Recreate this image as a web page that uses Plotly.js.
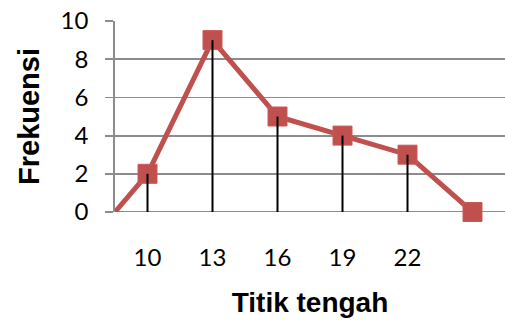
<!DOCTYPE html>
<html>
<head>
<meta charset="utf-8">
<script src="https://cdn.plot.ly/plotly-3.0.1.min.js"></script>
<style>html,body{margin:0;padding:0;background:#fff;}#chart{width:505px;height:324px;}</style>
</head>
<body>
<div id="chart"></div>
<script>
// Data
const midpoints = [8.5, 10, 13, 16, 19, 22, 25];
const frequencies = [0, 2, 9, 5, 4, 3, 0];
const tickValues = [10, 13, 16, 19, 22];
const tickLabels = ['10', '13', '16', '19', '22'];
const showMarker = [false, true, true, true, true, true, true];
const hasDropLine = [false, true, true, true, true, true, false];

const red = '#C0504D';

const dropX = [], dropY = [];
midpoints.forEach((x, i) => {
  if (hasDropLine[i]) { dropX.push(x, x, null); dropY.push(0, frequencies[i], null); }
});

const traces = [
  {
    x: midpoints, y: frequencies, type: 'scatter', mode: 'lines+markers',
    line: {color: red, width: 5},
    marker: {symbol: 'square', color: red, opacity: 1, size: showMarker.map(s => s ? 19 : 0),
             line: {color: '#C85A57', width: 1}},
    opacity: 1,
    cliponaxis: false, hoverinfo: 'skip'
  },
  {
    x: dropX, y: dropY, type: 'scatter', mode: 'lines',
    line: {color: '#000000', width: 2}, hoverinfo: 'skip'
  }
];

const layout = {
  width: 505, height: 324,
  margin: {l: 115, r: 0, t: 21, b: 112},
  paper_bgcolor: '#ffffff', plot_bgcolor: '#ffffff',
  showlegend: false,
  font: {family: 'Lato, "Open Sans", sans-serif', color: '#000000'},
  xaxis: {
    range: [8.5, 26.5], fixedrange: true,
    tickmode: 'array', tickvals: tickValues, ticktext: tickLabels,
    showgrid: false, zeroline: false,
    showline: false, ticks: '',
    tickfont: {size: 24, family: 'Lato, sans-serif', color: '#000'},
    ticklabelstandoff: 29,
    title: {text: 'Titik tengah', standoff: 22,
            font: {size: 28, family: '"Liberation Sans", Arial, sans-serif', weight: 'bold', color: '#000'}}
  },
  yaxis: {
    range: [0, 10], fixedrange: true,
    tickvals: [0, 2, 4, 6, 8, 10],
    showgrid: true, gridcolor: '#8C8C8C', gridwidth: 1.8,
    zeroline: false,
    showline: true, linecolor: '#8C8C8C', linewidth: 1.8,
    ticks: 'outside', ticklen: 8, tickcolor: '#8C8C8C', tickwidth: 1.8,
    tickfont: {size: 24, family: 'Lato, sans-serif', color: '#000'},
    ticklabelstandoff: 12,
    title: {text: 'Frekuensi', standoff: 12,
            font: {size: 29, family: '"Liberation Sans", Arial, sans-serif', weight: 'bold', color: '#000'}}
  },
  shapes: [{type: 'line', xref: 'paper', yref: 'y', x0: -0.02, x1: 1, y0: 0, y1: 0,
            line: {color: '#8C8C8C', width: 1.8}, layer: 'below'}]
};

Plotly.newPlot('chart', traces, layout, {displayModeBar: false, staticPlot: true});
</script>
</body>
</html>
